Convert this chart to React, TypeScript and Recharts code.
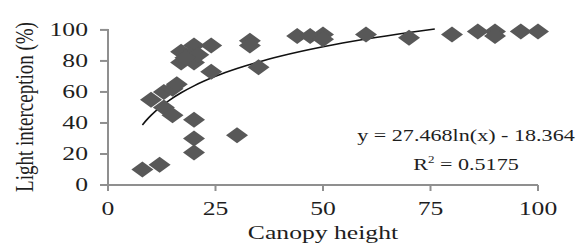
import React from 'react';
import { ComposedChart, Scatter, Line, XAxis, YAxis } from 'recharts';

// canopy height vs light interception
const canopyHeight = [8, 12, 10, 13, 15, 16, 13, 15, 17, 20, 19, 17, 20, 21, 18, 24, 24, 20, 20, 20, 30, 33, 33, 35, 44, 47, 50, 50, 60, 70, 80, 86, 90, 90, 96, 100];
const lightInterception = [10, 13, 55, 60, 62, 65, 50, 45, 86, 90, 84, 79, 79, 84, 82, 90, 73, 42, 30, 21, 32, 93, 90, 76, 96, 96, 97, 94, 97, 95, 97, 99, 99, 96, 99, 99];

const xTicks = [0, 25, 50, 75, 100];
const yTicks = [0, 20, 40, 60, 80, 100];

// log trendline printed on the chart: y = 27.468ln(x) - 18.364
const trendA = 27.468;
const trendB = -18.364;
const trendX = [8, 9, 10, 12, 14, 17, 20, 25, 30, 35, 40, 50, 60, 70, 76];

const points = canopyHeight.map((x, i) => ({ x, y: lightInterception[i] }));
const trend = trendX.map((x) => ({ x, y: trendA * Math.log(x) + trendB }));

const FONT = '"Liberation Serif", "Times New Roman", serif';
const STRETCH = 1.35;
const AXIS = '#8f8f8f';

const Diamond = (props: any) => {
    const { cx, cy } = props;
    if (cx == null || cy == null) return null;
    return <polygon points={`${cx - 11},${cy} ${cx},${cy - 8} ${cx + 11},${cy} ${cx},${cy + 8}`} fill="#585858" />;
};

const YTick = ({ x, y, payload }: any) => (
    <g transform={`translate(${x},${y})`}>
        <text transform={`scale(${STRETCH},1)`} textAnchor="end" dy={6} fontFamily={FONT} fontSize={19} fill="#1e1e1e">
            {payload.value}
        </text>
    </g>
);

const XTick = ({ x, y, payload }: any) => (
    <g transform={`translate(${x},${y})`}>
        <text transform={`scale(${STRETCH},1)`} textAnchor="middle" dy={22} fontFamily={FONT} fontSize={19} fill="#1e1e1e">
            {payload.value}
        </text>
    </g>
);

export default function App() {
    return (
        <div style={{ position: 'absolute', left: 0, top: 0, width: 581, height: 248, background: '#fff' }}>
            <ComposedChart width={581} height={248} margin={{ top: 29, right: 43, bottom: 0, left: 8 }}>
                <XAxis
                    type="number"
                    dataKey="x"
                    domain={[0, 100]}
                    ticks={xTicks}
                    height={63}
                    stroke={AXIS}
                    strokeWidth={2}
                    tickSize={6}
                    tickMargin={2}
                    tick={<XTick />}
                    label={(p: any) => {
                        const vb = p && p.viewBox ? p.viewBox : { x: 108, width: 430 };
                        return (
                            <text
                                transform={`translate(${vb.x + vb.width / 2},239) scale(${STRETCH},1)`}
                                textAnchor="middle"
                                fontFamily={FONT}
                                fontSize={19}
                                fill="#1e1e1e"
                            >
                                Canopy height
                            </text>
                        );
                    }}
                />
                <YAxis
                    type="number"
                    dataKey="y"
                    domain={[0, 100]}
                    ticks={yTicks}
                    width={100}
                    stroke={AXIS}
                    strokeWidth={2}
                    tickSize={8}
                    tickMargin={12}
                    tick={<YTick />}
                    label={(p: any) => {
                        const vb = p && p.viewBox ? p.viewBox : { y: 29, height: 155.5 };
                        return (
                            <text
                                transform={`translate(33,${vb.y + vb.height / 2}) scale(${STRETCH},1) rotate(-90)`}
                                textAnchor="middle"
                                fontFamily={FONT}
                                fontSize={19}
                                fill="#1e1e1e"
                            >
                                Light interception (%)
                            </text>
                        );
                    }}
                />
                <Scatter data={points} dataKey="y" shape={<Diamond />} isAnimationActive={false} />
                <Line
                    data={trend}
                    dataKey="y"
                    type="monotone"
                    stroke="#111"
                    strokeWidth={1.6}
                    dot={false}
                    activeDot={false}
                    isAnimationActive={false}
                />
            </ComposedChart>
            <div
                style={{
                    position: 'absolute',
                    left: 466,
                    top: 124,
                    transform: `translateX(-50%) scaleX(1.3)`,
                    fontFamily: FONT,
                    fontSize: 17,
                    lineHeight: '24px',
                    color: '#1e1e1e',
                    textAlign: 'center',
                    whiteSpace: 'nowrap',
                }}
            >
                <div>y = 27.468ln(x) - 18.364</div>
                <div>
                    R<sup style={{ fontSize: 10 }}>2</sup> = 0.5175
                </div>
            </div>
        </div>
    );
}
